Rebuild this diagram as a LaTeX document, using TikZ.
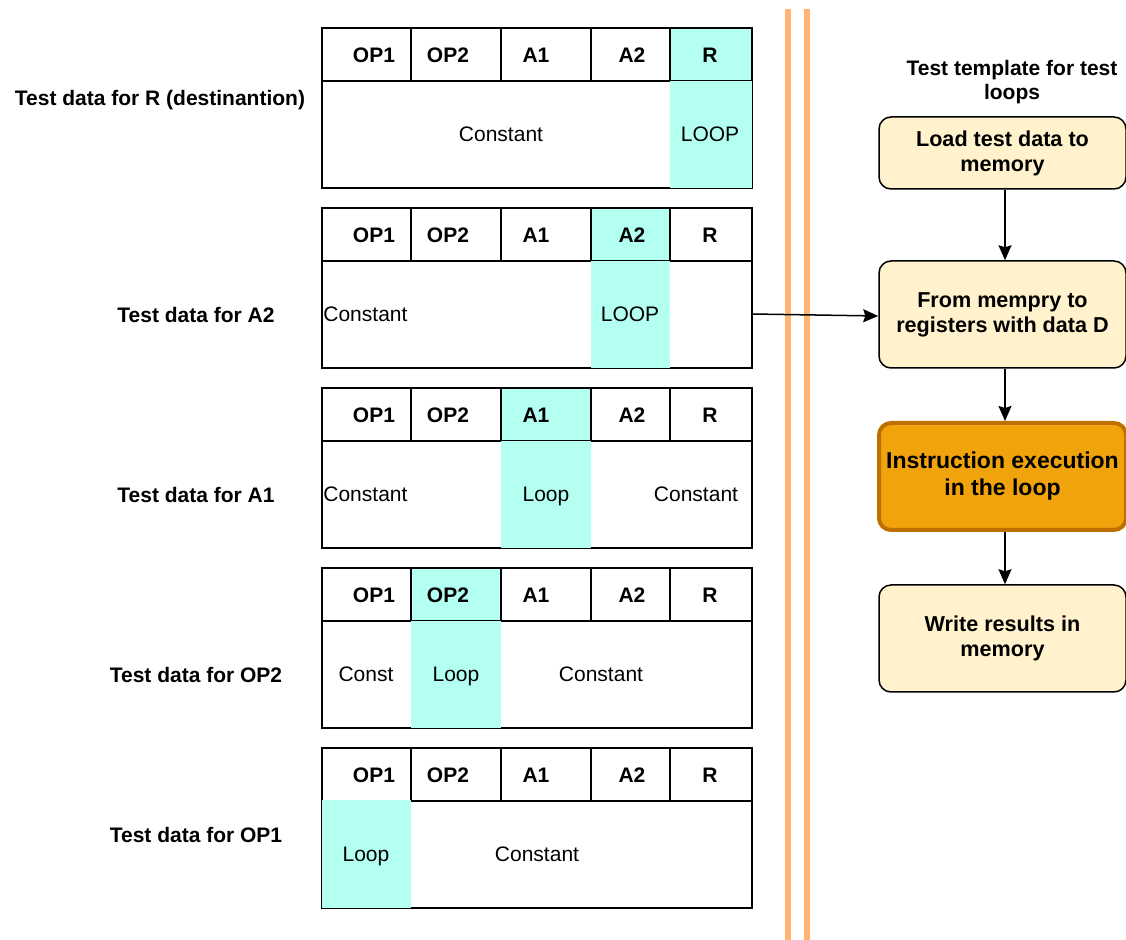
\documentclass[tikz,border=0pt]{standalone}
\usepackage{fontspec}
\setmainfont{Liberation Sans}
\usetikzlibrary{arrows.meta}
\definecolor{loopcyan}{HTML}{B3FFF2}
\definecolor{notefill}{HTML}{FFF2CC}
\definecolor{execfill}{HTML}{F0A30A}
\definecolor{execline}{HTML}{BD7000}
\definecolor{sepline}{HTML}{FFB570}
\begin{document}
\begin{tikzpicture}[x=0.5pt,y=-0.5pt,
  hdr/.style={font=\fontsize{10.5}{12}\selectfont\bfseries},
  txt/.style={font=\fontsize{10.5}{12}\selectfont, text height=0.9em, text depth=0.2em},
  cellline/.style={draw=black, line width=0.75pt},
  stepbox/.style={draw=black, line width=0.75pt, rounded corners=6pt, fill=notefill,
    align=center, font=\fontsize{10.8}{12.5}\selectfont\bfseries,
    minimum width=123.5pt, inner sep=2pt},
  execbox/.style={stepbox, draw=execline, line width=2pt, fill=execfill,
    font=\fontsize{11.5}{13.5}\selectfont\bfseries},
  flow/.style={draw=black, line width=0.75pt, -{Stealth[length=7.5pt,width=6.5pt,inset=1pt]}}]
\useasboundingbox (0,0) rectangle (1126,940);
% cyan header cells
\fill[loopcyan] (670,28) rectangle (752,81);
\fill[loopcyan] (591,208) rectangle (670,261);
\fill[loopcyan] (501,388) rectangle (591,441);
\fill[loopcyan] (411,568) rectangle (501,621);
% five tables
\foreach \ty in {28,208,388,568,748} {
  \draw[cellline] (322,\ty) rectangle (752,\ty+160);
  \draw[cellline] (322,\ty+53) -- (752,\ty+53);
  \foreach \cx in {411,501,591,670} \draw[cellline] (\cx,\ty) -- (\cx,\ty+53);
  \foreach \cx/\name in {374/OP1,448/OP2,536/A1,632/A2,710/R}
    \node[hdr] at (\cx,\ty+27) {\name};
}
% cyan body cells
\fill[loopcyan] (670,81) rectangle (752,188);
\fill[loopcyan] (591,261) rectangle (670,368);
\fill[loopcyan] (501,441) rectangle (591,548);
\fill[loopcyan] (411,621) rectangle (501,728);
\fill[loopcyan] (322,800) rectangle (411,908);
% body texts
\node[txt] at (501,135) {Constant};
\node[txt] at (710,135) {LOOP};
\node[txt, anchor=west, inner sep=0pt] at (323,315) {Constant};
\node[txt] at (630,315) {LOOP};
\node[txt, anchor=west, inner sep=0pt] at (323,495) {Constant};
\node[txt] at (546,495) {Loop};
\node[txt] at (696,495) {Constant};
\node[txt] at (366,675) {Const};
\node[txt] at (456,675) {Loop};
\node[txt] at (601,675) {Constant};
\node[txt] at (366,855) {Loop};
\node[txt] at (537,855) {Constant};
% left labels
\node[hdr] (labR) at (160,100) {Test data for R (destinantion)};
\node[hdr] (labA2) at (196,315) {Test data for A2};
\node[hdr] (labA1) at (196,495) {Test data for A1};
\node[hdr] (labOP2) at (196,675) {Test data for OP2};
\node[hdr] (labOP1) at (196,835) {Test data for OP1};
% separator
\draw[sepline, line width=3pt] (788,9) -- (788,940);
\draw[sepline, line width=3pt] (807,9) -- (807,940);
% test template
\node[hdr, align=center] (title) at (1012,82) {Test template for test\\loops};
\node[stepbox, minimum height=36pt] (load) at (1002.5,153) {Load test data to\\memory};
\node[stepbox, minimum height=53.5pt] (regs) at (1002.5,314.5) {From mempry to\\registers with data D};
\node[execbox, minimum height=53.5pt] (exec) at (1002.5,476.5) {Instruction execution\\in the loop};
\node[stepbox, minimum height=53.5pt] (write) at (1002.5,638.5) {Write results in\\memory};
\coordinate (tabA2) at (752,314);
\draw[flow] ([xshift=1.25pt]load.south) -- ([xshift=1.25pt]regs.north);
\draw[flow] ([xshift=1.25pt]regs.south) -- ([xshift=1.25pt]exec.north);
\draw[flow] ([xshift=1.25pt]exec.south) -- ([xshift=1.25pt]write.north);
\draw[flow] (tabA2) -- ([yshift=-0.75pt]regs.west);
\end{tikzpicture}
\end{document}
